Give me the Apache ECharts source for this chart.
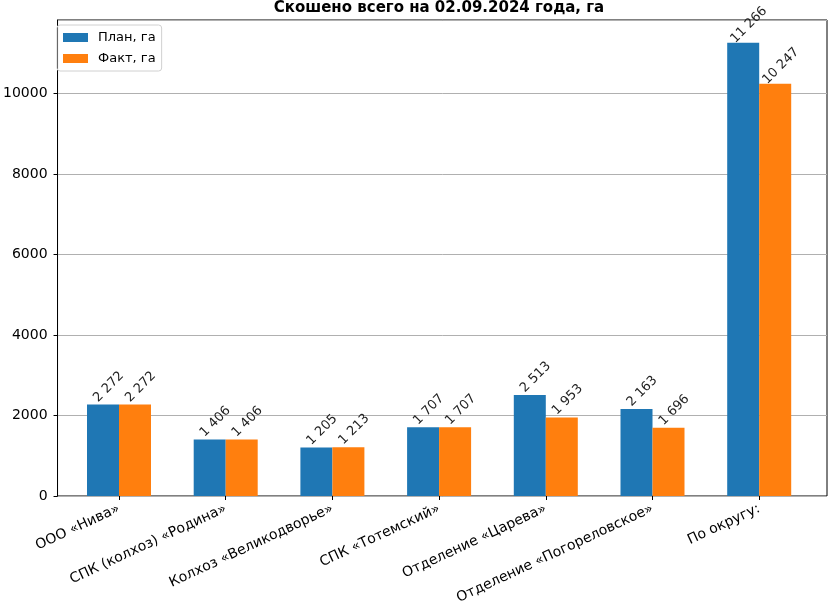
<!DOCTYPE html>
<html><head><meta charset="utf-8">
<script src="https://cdn.jsdelivr.net/npm/echarts@6/dist/echarts.min.js"></script>
<style>html,body{margin:0;padding:0;background:#fff}#c{width:829px;height:607px}</style>
</head><body><div id="c"></div>
<script>
const titleText = 'Скошено всего на 02.09.2024 года, га';
const categories = ['ООО «Нива»', 'СПК (колхоз) «Родина»', 'Колхоз «Великодворье»', 'СПК «Тотемский»', 'Отделение «Царева»', 'Отделение «Погореловское»', 'По округу:'];
const seriesNames = ['План, га', 'Факт, га'];
const planValues = [2272, 1406, 1205, 1707, 2513, 2163, 11266];
const factValues = [2272, 1406, 1213, 1707, 1953, 1696, 10247];
const yTicks = [0, 2000, 4000, 6000, 8000, 10000];
const yMax = 11829;

const fmt = v => String(v).replace(/\B(?=(\d{3})+(?!\d))/g, ' ');
const FONT = 'DejaVu Sans';
const barLabel = {
  show: true, position: 'top', rotate: 45, distance: 12, offset: [8, 0],
  align: 'center', verticalAlign: 'middle',
  fontFamily: FONT, fontSize: 13, color: '#222',
  formatter: p => fmt(p.value)
};
const chart = echarts.init(document.getElementById('c'), null, {renderer: 'canvas'});
chart.setOption({
  animation: false,
  textStyle: {fontFamily: FONT},
  title: {text: titleText, left: 439, textAlign: 'center', top: 0, padding: 0,
    textStyle: {fontFamily: FONT, fontSize: 15, fontWeight: 'bold', color: '#000', lineHeight: 16}},
  legend: {
    data: seriesNames, orient: 'vertical', left: 57, top: 25,
    itemWidth: 25, itemHeight: 9, itemGap: 8, icon: 'rect',
    borderColor: '#d0d0d0', borderWidth: 1, borderRadius: 3, padding: [6, 6, 6, 6],
    textStyle: {fontFamily: FONT, fontSize: 13, color: '#000', padding: [0, 0, 0, 5]}
  },
  grid: [
    {left: 52, top: 20, width: 775, height: 476, show: true, borderColor: '#000', borderWidth: 1, backgroundColor: 'transparent'},
    {left: 65.65, top: 20, width: 746.9, height: 476}
  ],
  xAxis: [
    {type: 'value', gridIndex: 0, show: false, min: 0, max: 1},
    {type: 'category', gridIndex: 1, data: categories,
      axisLine: {show: false},
      axisTick: {show: true, alignWithLabel: true, length: 4, lineStyle: {color: '#000'}},
      axisLabel: {rotate: 25, margin: 12, interval: 0, fontFamily: FONT, fontSize: 14, color: '#000'}}
  ],
  yAxis: [
    {type: 'value', gridIndex: 0, min: 0, max: yMax, interval: 2000,
      axisLine: {show: true, lineStyle: {color: '#000'}},
      axisTick: {show: true, length: 4, lineStyle: {color: '#000'}},
      axisLabel: {showMaxLabel: false, margin: 10, fontFamily: FONT, fontSize: 14, color: '#000',
        formatter: v => yTicks.includes(v) ? String(v) : ''},
      splitLine: {show: true, lineStyle: {color: '#b0b0b0', width: 1}}},
    {type: 'value', gridIndex: 1, min: 0, max: yMax, show: false, splitLine: {show: false}}
  ],
  series: [
    {name: seriesNames[0], type: 'bar', xAxisIndex: 1, yAxisIndex: 1, data: planValues,
      barWidth: 32, barGap: '0%', itemStyle: {color: '#1f77b4'}, label: barLabel},
    {name: seriesNames[1], type: 'bar', xAxisIndex: 1, yAxisIndex: 1, data: factValues,
      barWidth: 32, barGap: '0%', itemStyle: {color: '#ff7f0e'}, label: barLabel}
  ]
});
</script></body></html>
